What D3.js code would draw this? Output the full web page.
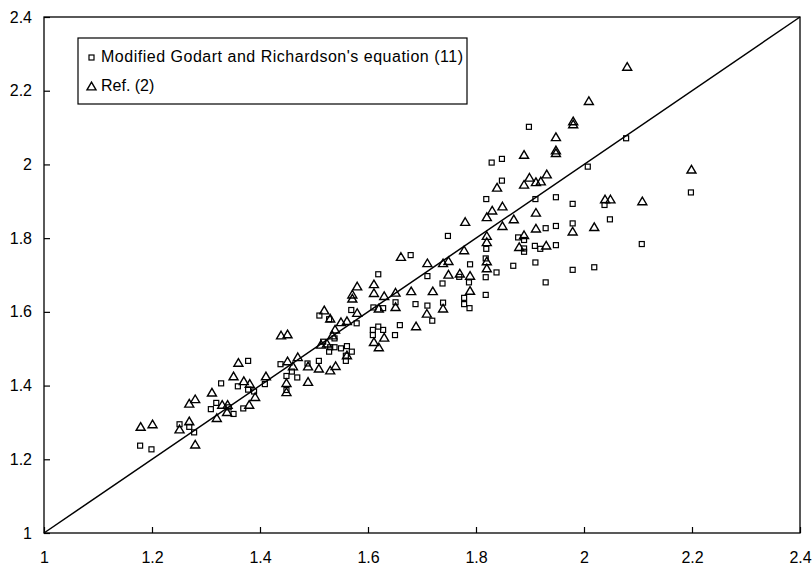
<!DOCTYPE html>
<html>
<head>
<meta charset="utf-8">
<script src="https://cdn.jsdelivr.net/npm/d3@7"></script>
<style>
  body { margin: 0; background: #fff; }
  text { font-family: "Liberation Sans", Arial, sans-serif; fill: #000; }
</style>
</head>
<body>
<div id="chart"></div>
<script>
// ticks
var xTicks = [1, 1.2, 1.4, 1.6, 1.8, 2, 2.2, 2.4],
    yTicks = [1, 1.2, 1.4, 1.6, 1.8, 2, 2.2, 2.4];

var legendLabels = ["Modified Godart and Richardson's equation (11)", "Ref. (2)"];

// squares: Modified Godart and Richardson's equation (11)
var godartPts = [
  [1.178,1.237],[1.199,1.227],[1.251,1.295],[1.269,1.288],[1.278,1.273],[1.319,1.353],
  [1.309,1.336],[1.342,1.341],[1.351,1.323],[1.369,1.338],[1.328,1.406],[1.359,1.398],
  [1.378,1.389],[1.389,1.384],[1.409,1.404],[1.378,1.467],[1.438,1.458],[1.459,1.438],
  [1.449,1.426],[1.469,1.422],[1.449,1.388],[1.488,1.460],[1.509,1.467],[1.517,1.519],
  [1.538,1.528],[1.530,1.504],[1.528,1.492],[1.538,1.504],[1.550,1.501],[1.561,1.507],
  [1.570,1.492],[1.559,1.481],[1.559,1.467],[1.510,1.590],[1.528,1.580],[1.569,1.605],
  [1.579,1.569],[1.610,1.612],[1.628,1.610],[1.619,1.702],[1.619,1.560],[1.609,1.551],
  [1.628,1.551],[1.609,1.537],[1.650,1.537],[1.659,1.564],[1.651,1.626],[1.679,1.754],
  [1.688,1.621],[1.710,1.617],[1.719,1.576],[1.710,1.697],[1.738,1.677],[1.739,1.625],
  [1.748,1.806],[1.789,1.729],[1.818,1.745],[1.838,1.707],[1.818,1.694],[1.787,1.680],
  [1.769,1.695],[1.818,1.646],[1.778,1.638],[1.778,1.621],[1.788,1.610],[1.819,1.771],
  [1.898,2.102],[1.829,2.005],[1.848,2.015],[2.078,2.071],[2.007,1.994],[1.848,1.956],
  [1.819,1.906],[1.910,1.906],[1.948,1.911],[1.979,1.893],[2.038,1.890],[2.048,1.851],
  [1.979,1.840],[1.948,1.833],[1.929,1.827],[1.878,1.802],[1.889,1.795],[1.889,1.772],
  [1.889,1.763],[1.909,1.779],[1.919,1.771],[1.948,1.781],[2.107,1.784],[1.869,1.725],
  [1.910,1.734],[1.979,1.714],[2.019,1.721],[1.929,1.680],[2.198,1.924]
];

// triangles: Ref. (2)
var refPts = [
  [1.179,1.289],[1.201,1.296],[1.251,1.282],[1.269,1.304],[1.280,1.241],[1.280,1.364],
  [1.269,1.352],[1.311,1.382],[1.330,1.349],[1.340,1.349],[1.339,1.329],[1.320,1.313],
  [1.380,1.349],[1.391,1.370],[1.351,1.426],[1.370,1.413],[1.381,1.406],[1.360,1.463],
  [1.411,1.426],[1.439,1.537],[1.451,1.540],[1.451,1.467],[1.470,1.478],[1.461,1.453],
  [1.449,1.408],[1.449,1.383],[1.489,1.453],[1.489,1.411],[1.509,1.447],[1.530,1.442],
  [1.540,1.454],[1.561,1.483],[1.513,1.512],[1.524,1.515],[1.534,1.537],[1.539,1.553],
  [1.550,1.573],[1.561,1.576],[1.519,1.605],[1.530,1.583],[1.580,1.598],[1.580,1.670],
  [1.571,1.648],[1.571,1.637],[1.611,1.676],[1.611,1.652],[1.630,1.644],[1.651,1.653],
  [1.680,1.657],[1.720,1.657],[1.651,1.614],[1.620,1.610],[1.709,1.596],[1.739,1.610],
  [1.689,1.562],[1.611,1.519],[1.630,1.531],[1.620,1.505],[1.661,1.750],[1.710,1.733],
  [1.739,1.733],[1.749,1.739],[1.749,1.702],[1.778,1.768],[1.820,1.807],[1.820,1.790],
  [1.820,1.738],[1.820,1.719],[1.770,1.705],[1.789,1.699],[1.789,1.658],[1.780,1.845],
  [1.980,2.118],[1.980,2.110],[1.948,2.075],[1.948,2.039],[1.948,2.032],[1.889,2.027],
  [1.931,1.974],[1.899,1.965],[1.889,1.946],[1.911,1.953],[1.920,1.955],[1.839,1.938],
  [1.849,1.887],[1.830,1.876],[1.820,1.858],[1.870,1.852],[1.849,1.834],[1.911,1.870],
  [1.911,1.827],[1.979,1.819],[2.019,1.831],[2.039,1.906],[2.049,1.906],[2.108,1.901],
  [1.889,1.809],[1.880,1.777],[1.930,1.781],[2.009,2.173],[2.080,2.266],[2.199,1.987]
];

var margin = { top: 17, right: 12, bottom: 33, left: 44 },
    width = 812 - margin.left - margin.right,
    height = 566 - margin.top - margin.bottom;

var svg = d3.select("#chart").append("svg")
    .attr("width", 812)
    .attr("height", 566)
    .append("g")
    .attr("transform", "translate(" + margin.left + "," + margin.top + ")");

var x = d3.scaleLinear().domain([1, 2.4]).range([0, width]),
    y = d3.scaleLinear().domain([1, 2.4]).range([height, 0]);

// frame
svg.append("rect")
    .attr("x", 0).attr("y", 0)
    .attr("width", width).attr("height", height)
    .style("fill", "none").style("stroke", "#000").style("stroke-width", 1.3);

// axes, ticks pointing inward
var xAxis = svg.append("g")
    .attr("transform", "translate(0," + height + ")")
    .call(d3.axisBottom(x).tickValues(xTicks).tickSizeInner(-6).tickSizeOuter(0).tickPadding(19)
        .tickFormat(function(d) { return String(d); }));
var yAxis = svg.append("g")
    .call(d3.axisLeft(y).tickValues(yTicks).tickSizeInner(-6).tickSizeOuter(0).tickPadding(12)
        .tickFormat(function(d) { return String(d); }));

[xAxis, yAxis].forEach(function(a) {
    a.select(".domain").remove();
    a.selectAll("line").style("stroke", "#000").style("stroke-width", 1.2);
    a.selectAll("text").style("font-size", "16px").style("font-family", "'Liberation Sans', Arial, sans-serif");
});

// 1:1 line
svg.append("line")
    .attr("x1", x(1)).attr("y1", y(1))
    .attr("x2", x(2.4)).attr("y2", y(2.4))
    .style("stroke", "#000").style("stroke-width", 1.5);

function trianglePath(cx, cy, w) {
    var h = w * 0.85;
    return "M" + cx + "," + (cy - h / 2) +
        "L" + (cx + w / 2) + "," + (cy + h / 2) +
        "L" + (cx - w / 2) + "," + (cy + h / 2) + "Z";
}

svg.selectAll(".sq")
    .data(godartPts)
    .enter().append("rect")
        .attr("class", "sq")
        .attr("x", function(d) { return x(d[0]) - 2.5; })
        .attr("y", function(d) { return y(d[1]) - 2.5; })
        .attr("width", 5).attr("height", 5)
        .style("fill", "none").style("stroke", "#000").style("stroke-width", 1.2);

svg.selectAll(".tri")
    .data(refPts)
    .enter().append("path")
        .attr("class", "tri")
        .attr("d", function(d) { return trianglePath(x(d[0]), y(d[1]), 9); })
        .style("fill", "none").style("stroke", "#000").style("stroke-width", 1.4);

// legend
var legend = svg.append("g").attr("transform", "translate(" + (78 - margin.left) + "," + (38 - margin.top) + ")");
legend.append("rect")
    .attr("width", 389).attr("height", 66)
    .style("fill", "#fff").style("stroke", "#000").style("stroke-width", 1.2);
legend.append("rect")
    .attr("x", 11).attr("y", 17)
    .attr("width", 5).attr("height", 5)
    .style("fill", "none").style("stroke", "#000").style("stroke-width", 1.2);
legend.append("path")
    .attr("d", trianglePath(13.5, 48, 9))
    .style("fill", "none").style("stroke", "#000").style("stroke-width", 1.4);
legend.selectAll(".legText")
    .data(legendLabels)
    .enter().append("text")
        .attr("class", "legText")
        .attr("x", 23)
        .attr("y", function(d, i) { return 20 + i * 29; })
        .attr("textLength", function(d, i) { return i === 0 ? 362 : null; })
        .style("font-size", "16px")
        .style("alignment-baseline", "middle")
        .text(function(d) { return d; });
</script>
</body>
</html>
